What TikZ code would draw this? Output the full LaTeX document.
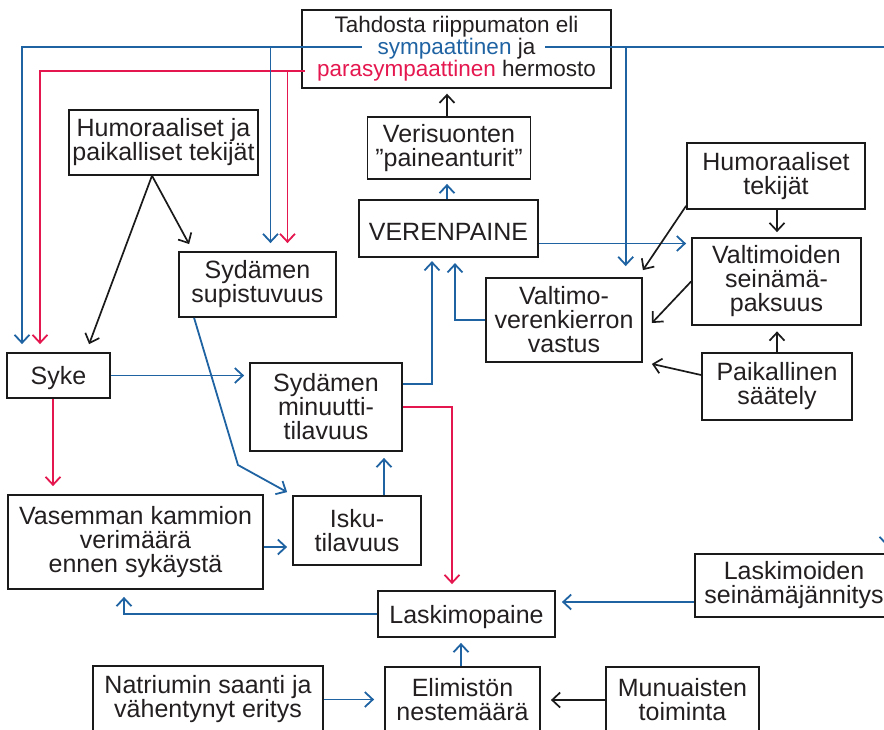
\documentclass[tikz,border=0pt]{standalone}
\usepackage{fontspec}
\setmainfont{Liberation Sans}
\usetikzlibrary{arrows.meta,calc}
\definecolor{cblue}{HTML}{1F63A3}
\definecolor{cred}{HTML}{E5174F}
\definecolor{ctext}{HTML}{231F20}
\definecolor{cline}{HTML}{1A1A1A}
\begin{document}
\begin{tikzpicture}[x=1pt,y=-1pt,
  nbox/.style={draw=cline, line width=1.8pt, rectangle, align=center, text=ctext,
    font=\fontsize{25}{24}\selectfont, inner sep=0pt,
    execute at begin node={\rule{0pt}{24pt}}},
  arrtip/.style={-{Straight Barb[length=8pt,width=15pt]}},
  barrow/.style={arrtip, draw=cblue, line width=1.8pt},
  rarrow/.style={arrtip, draw=cred, line width=1.8pt},
  karrow/.style={arrtip, draw=cline, line width=1.7pt},
  bline/.style={draw=cblue, line width=1.8pt},
]
\useasboundingbox (0,0) rectangle (884,729);
\clip (0,0) rectangle (884,729);

% nodes
\node[nbox, line width=1.4pt, minimum width=309pt, minimum height=78pt,
  font=\fontsize{22.5}{22}\selectfont, execute at begin node={\rule{0pt}{22pt}}] (top) at (456.5,49)
  {Tahdosta riippumaton eli\\\textcolor{cblue}{sympaattinen} ja\\\textcolor{cred}{parasympaattinen} hermosto};
\node[nbox, line width=1.4pt, minimum width=189pt, minimum height=65pt] (hum1) at (163.5,142.5) {Humoraaliset ja\\paikalliset tekijät};
\node[nbox, minimum width=163pt, minimum height=62pt] (veri) at (449,148) {Verisuonten\\”paineanturit”};
\node[nbox, line width=2.2pt, minimum width=179pt, minimum height=57pt] (vp) at (448.5,228.5) {VERENPAINE};
\node[nbox, minimum width=178pt, minimum height=66pt] (hum2) at (776,176) {Humoraaliset\\tekijät};
\node[nbox, minimum width=169pt, minimum height=87pt] (valt) at (776.5,281.5) {Valtimoiden\\seinämä-\\paksuus};
\node[nbox, minimum width=156pt, minimum height=84pt] (vast) at (564,320) {Valtimo-\\verenkierron\\vastus};
\node[nbox, minimum width=150pt, minimum height=67pt] (paik) at (777,386.5) {Paikallinen\\säätely};
\node[nbox, minimum width=157pt, minimum height=65pt] (sup) at (257.5,284.5) {Sydämen\\supistuvuus};
\node[nbox, minimum width=103pt, minimum height=45pt] (syke) at (58.5,375.5) {Syke};
\node[nbox, minimum width=152pt, minimum height=88pt] (mv) at (326,407) {Sydämen\\minuutti-\\tilavuus};
\node[nbox, minimum width=255pt, minimum height=94pt] (vas) at (135.5,542) {Vasemman kammion\\verimäärä\\ennen sykäystä};
\node[nbox, minimum width=128pt, minimum height=69pt] (isku) at (357,530.5) {Isku-\\tilavuus};
\node[nbox, minimum width=177pt, minimum height=46pt] (lp) at (466.5,614) {Laskimopaine};
\node[nbox, minimum width=198pt, minimum height=63pt] (lsj) at (794,585.5) {Laskimoiden\\seinämäjännitys};
\node[nbox, minimum width=155pt, minimum height=66pt] (eli) at (462.5,700) {Elimistön\\nestemäärä};
\node[nbox, minimum width=230pt, minimum height=67pt] (nat) at (208,699.5) {Natriumin saanti ja\\vähentynyt eritys};
\node[nbox, minimum width=153pt, minimum height=66pt] (mun) at (682.5,700) {Munuaisten\\toiminta};

% bus coordinates
\coordinate (busBL) at (362,47);
\coordinate (busBR) at (545,47);
\coordinate (busRL) at (305,71);
\coordinate (busBE) at (892,47);
\coordinate (bend) at (238,465);
\coordinate (offR) at (887,480);

% nervous system bus
\draw[barrow, shorten >=8pt] (busBL) -| ([xshift=-36.5pt]syke.north);
\draw[rarrow, shorten >=8pt] (busRL) -| ([xshift=-18.5pt]syke.north);
\draw[barrow, shorten >=8pt] ([xshift=13pt]sup.north |- busBL) -- ([xshift=13pt]sup.north);
\draw[rarrow, shorten >=8pt] ([xshift=30pt]sup.north |- busRL) -- ([xshift=30pt]sup.north);
\draw[bline] (busBR) -- (busBE);
\draw[barrow, shorten >=11pt] ([xshift=61.7pt]vast.north |- busBR) -- ([xshift=61.7pt]vast.north);

% upper middle
\draw[karrow, shorten >=5pt] ([xshift=-2pt]veri.north) -- ([xshift=-2pt]veri.north |- top.south);
\draw[barrow, shorten >=4pt] ([xshift=-1.5pt]vp.north) -- ([xshift=-1.5pt]vp.north |- veri.south);
\coordinate (h1s) at ([xshift=-11.5pt]hum1.south);
\draw[karrow] (h1s) -- ($(sup.north west)+(11,-7)$);
\draw[karrow] (h1s) -- ($(syke.north west)+(83,-8)$);

% right part
\draw[barrow, shorten >=5pt] ([yshift=-15pt]vp.east) -- ([yshift=-15pt]vp.east -| valt.west);
\draw[karrow, shorten >=5pt] ([xshift=1pt]hum2.south) -- ([xshift=1pt]hum2.south |- valt.north);
\draw[karrow] ([yshift=4pt]hum2.south west) -- ($(vast.north east)+(0,-7)$);
\draw[karrow] (valt.west) -- ($(vast.east)+(9,3)$);
\draw[karrow, shorten >=5.5pt] (paik.north) -- (paik.north |- valt.south);
\draw[karrow] ([yshift=11.5pt]paik.west) -- ($(vast.south east)+(9,1)$);
\draw[barrow, shorten >=5pt] (vast.west) -| ([xshift=6.5pt]vp.south);

% heart part
\draw[barrow, shorten >=5pt] (syke.east) -- (syke.east -| mv.west);
\draw[barrow, shorten >=3pt] ([yshift=23pt]mv.east) -| ([xshift=-16.5pt]vp.south);
\draw[rarrow, shorten >=6pt] (mv.east) -| ([xshift=-14.5pt]lp.north);
\draw[rarrow, shorten >=8pt] ([xshift=-5.5pt]syke.south) -- ([xshift=-5.5pt]syke.south |- vas.north);
\draw[barrow] ([xshift=16pt]sup.south west) -- (bend) -- ($(isku.north west)+(-5,-3)$);
\draw[barrow, shorten >=6pt] ([xshift=27pt]isku.north) -- ([xshift=27pt]isku.north |- mv.south);
\draw[barrow, shorten >=5pt] ([yshift=-5pt]vas.east) -- ([yshift=-5pt]vas.east -| isku.west);

% venous part
\draw[barrow, shorten >=7pt] (lp.west) -| ([xshift=-11.5pt]vas.south);
\draw[barrow, shorten >=6pt] ([yshift=-16.5pt]lsj.west) -- ([yshift=-16.5pt]lsj.west -| lp.east);
\draw[barrow, shorten >=5pt] ([xshift=-1.5pt]eli.north) -- ([xshift=-1.5pt]eli.north |- lp.south);
\draw[barrow, shorten >=10pt] (nat.east) -- (nat.east -| eli.west);
\draw[karrow, shorten >=10pt] (mun.west) -- (mun.west -| eli.east);
\draw[barrow, shorten >=7pt] (offR) -- (offR |- lsj.north);
\end{tikzpicture}
\end{document}
